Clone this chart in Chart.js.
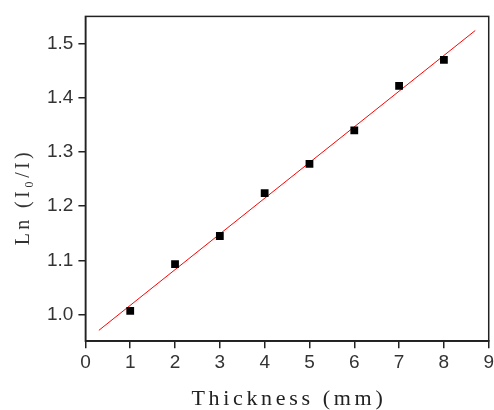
<!DOCTYPE html>
<html>
<head>
<meta charset="utf-8">
<script src="https://cdn.jsdelivr.net/npm/chart.js@4.4.1/dist/chart.umd.min.js"></script>
<style>
  html, body { margin: 0; padding: 0; background: #fff; overflow: hidden; }
  #wrap { width: 497px; height: 410px; }
</style>
</head>
<body>
<div id="wrap"><canvas id="thicknessChart"></canvas></div>
<script>
var thickness = [1, 2, 3, 4, 5, 6, 7, 8];
var lnRatio = [1.007, 1.093, 1.145, 1.224, 1.278, 1.340, 1.422, 1.470];
var fitX = [0.3, 8.7];
var fitY = [0.971, 1.524];
var xTicks = [0, 1, 2, 3, 4, 5, 6, 7, 8, 9];
var yTicks = [1.0, 1.1, 1.2, 1.3, 1.4, 1.5];

// spread the letters of an axis title a little, like the original figure
function spaced(str) {
  return str.split('').join('\u200A\u200A');
}

// box round the plot area (top and right sides)
var frame = {
  id: 'frame',
  afterDatasetsDraw: function(chart) {
    var a = chart.chartArea, c = chart.ctx;
    c.save();
    c.strokeStyle = '#222';
    c.lineWidth = 1.5;
    c.strokeRect(a.left, a.top, a.right - a.left, a.bottom - a.top);
    c.restore();
  }
};

var ctx = document.getElementById("thicknessChart");
var chart = new Chart(ctx, {
  type: 'scatter',
  data: {
    datasets: [
      {
        label: 'data',
        data: thickness.map(function(x, i) { return {x: x, y: lnRatio[i]}; }),
        pointStyle: 'rect',
        pointRadius: 5.5,
        backgroundColor: '#000',
        borderColor: '#000',
        borderWidth: 0,
        order: 1
      },
      {
        type: 'line',
        label: 'fit',
        data: fitX.map(function(x, i) { return {x: x, y: fitY[i]}; }),
        borderColor: '#ff0000',
        borderWidth: 1,
        pointRadius: 0,
        fill: false,
        order: 2
      }
    ]
  },
  options: {
    responsive: true,
    maintainAspectRatio: false,
    animation: false,
    layout: { padding: { top: 14, right: 0, left: 0, bottom: 0 } },
    plugins: { legend: { display: false }, tooltip: { enabled: false } },
    scales: {
      x: {
        type: 'linear',
        min: 0,
        max: 9,
        afterBuildTicks: function(axis) { axis.ticks = xTicks.map(function(v) { return {value: v}; }); },
        grid: { drawOnChartArea: false, drawTicks: true, tickLength: 7, color: '#222', lineWidth: 1.5 },
        border: { display: true, color: '#222', width: 1.5 },
        ticks: { color: '#333', padding: 3, font: { family: 'Liberation Sans', size: 19 } },
        title: {
          display: true,
          text: spaced('Thickness (mm)'),
          color: '#222',
          font: { family: 'Liberation Serif', size: 22, lineHeight: 1 },
          padding: { top: 11, bottom: 0 }
        }
      },
      y: {
        type: 'linear',
        min: 0.951,
        max: 1.55,
        afterBuildTicks: function(axis) { axis.ticks = yTicks.map(function(v) { return {value: v}; }); },
        grid: { drawOnChartArea: false, drawTicks: true, tickLength: 7, color: '#222', lineWidth: 1.5 },
        border: { display: true, color: '#222', width: 1.5 },
        ticks: {
          color: '#333',
          padding: 5,
          font: { family: 'Liberation Sans', size: 19 },
          callback: function(v) { return v.toFixed(1); }
        },
        title: {
          display: true,
          // trailing spaces push the title a bit lower, as in the figure
          text: spaced('Ln (I\u2080/I)') + '        ',
          color: '#333',
          font: { family: 'Liberation Serif', size: 20 },
          padding: { top: 12, bottom: 6 }
        }
      }
    }
  },
  plugins: [frame]
});
</script>
</body>
</html>
